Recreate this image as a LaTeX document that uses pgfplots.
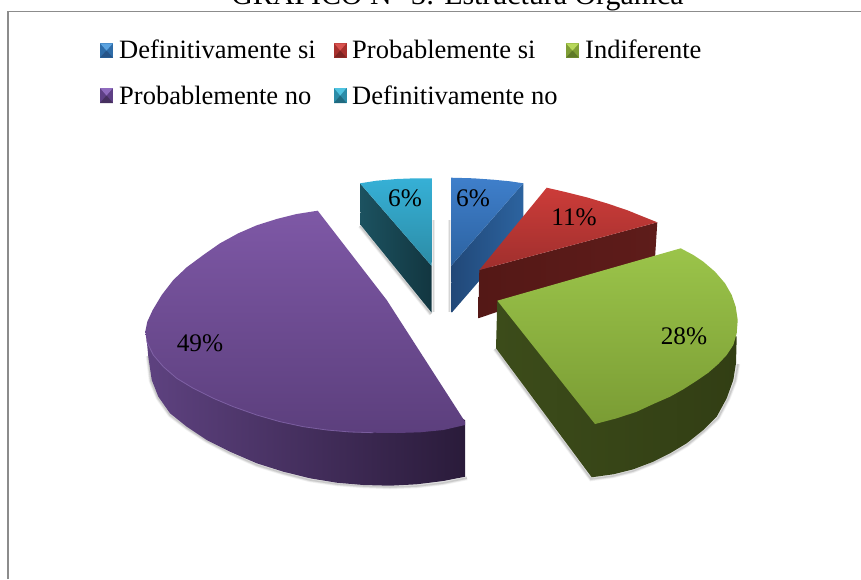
\documentclass[border=0pt]{standalone}
\usepackage{pgfplots}
\pgfplotsset{compat=1.18}
\usepackage{fontspec}
\setmainfont{Liberation Serif}
\definecolor{frameg}{HTML}{8C8C8C}
\definecolor{bB}{HTML}{2E6CA8}\definecolor{bL}{HTML}{5BA3E0}\definecolor{bD}{HTML}{265488}
\definecolor{rB}{HTML}{A8302D}\definecolor{rL}{HTML}{D9534F}\definecolor{rD}{HTML}{7E2422}
\definecolor{gB}{HTML}{7F9E35}\definecolor{gL}{HTML}{B7D85A}\definecolor{gD}{HTML}{5F7A28}
\definecolor{pB}{HTML}{5E4085}\definecolor{pL}{HTML}{8F6BBE}\definecolor{pD}{HTML}{46305F}
\definecolor{cB}{HTML}{2B8CA8}\definecolor{cL}{HTML}{4FC3E0}\definecolor{cD}{HTML}{1F6A80}
\newcommand\lgf{\fontsize{26.5}{30}\selectfont}
\newcommand\ttf{\fontsize{29.9}{34}\selectfont}
\newcommand\lbf{\fontsize{25.3}{30}\selectfont}
% bevelled legend key: x0 x1 xm y0 y1 ym base light dark
\newcommand\mk[9]{%
 \addplot[draw=none,fill=#7] coordinates {(#1,#4)(#2,#4)(#2,#5)(#1,#5)} --cycle;
 \addplot[draw=none,fill=#9] coordinates {(#1,#5)(#2,#5)(#3,#6)} --cycle;
 \addplot[draw=none,fill=#8] coordinates {(#1,#4)(#2,#4)(#3,#6)} --cycle;
}
\pgfplotsset{
  sh1/.style={black,opacity=.05,line width=4.5pt},
  sh2/.style={black,opacity=.07,line width=3pt},
  sh3/.style={black,opacity=.10,line width=1.5pt}}
\begin{document}
\begin{tikzpicture}
\useasboundingbox (0,0) rectangle (861pt,579pt);
\clip (0,0) rectangle (861pt,579pt);
\begin{axis}[at={(0,0)},anchor=south west,scale only axis,width=861pt,height=579pt,
  xmin=0,xmax=861,ymin=0,ymax=579,y dir=reverse,hide axis,no markers,clip=true]
% frame
\addplot[frameg,line width=1.4pt] coordinates {(8,579)(8,11.5)(861,11.5)};
% soft shadows
\addplot[sh1] coordinates {(148,356)(151,381)(158,398)(170,415)(187,428)(207,441)(230,453)(257,465)(283,473)(310,480)(337,484)(363,486)(390,487)(417,486)(443,483)(467,478)};
\addplot[sh2] coordinates {(148,356)(151,381)(158,398)(170,415)(187,428)(207,441)(230,453)(257,465)(283,473)(310,480)(337,484)(363,486)(390,487)(417,486)(443,483)(467,478)};
\addplot[sh3] coordinates {(148,356)(151,381)(158,398)(170,415)(187,428)(207,441)(230,453)(257,465)(283,473)(310,480)(337,484)(363,486)(390,487)(417,486)(443,483)(467,478)};
\addplot[sh1] coordinates {(360,226)(431,314)};
\addplot[sh2] coordinates {(360,226)(431,314)};
\addplot[sh3] coordinates {(360,226)(431,314)};
\addplot[sh2] coordinates {(433.5,220)(433.5,312)};
\addplot[sh3] coordinates {(433.5,220)(433.5,312)};
\addplot[sh2] coordinates {(449.5,220)(449.5,312)};
\addplot[sh3] coordinates {(449.5,220)(449.5,312)};
\addplot[sh1] coordinates {(495,349)(591,479)(613,476)(633,471)(653,463)(670,455)(687,445)(704,431)(718,418)(728,399)(735,381)(738,364)};
\addplot[sh2] coordinates {(495,349)(591,479)(613,476)(633,471)(653,463)(670,455)(687,445)(704,431)(718,418)(728,399)(735,381)(738,364)};
\addplot[sh3] coordinates {(495,349)(591,479)(613,476)(633,471)(653,463)(670,455)(687,445)(704,431)(718,418)(728,399)(735,381)(738,364)};
% purple
\addplot[draw=none,left color={rgb,255:red,94;green,66;blue,128},right color={rgb,255:red,42;green,27;blue,58}] coordinates {(146.7,340)(148.3,356.7)(151.7,380)(158.3,396.7)(170,413.3)(186.7,426.7)(206.7,440)(230,451.7)(256.7,463.3)(283.3,471.7)(310,478.3)(336.7,482.7)(363.3,485)(390,485.7)(416.7,484.3)(443.3,481)(465,476.7)(465,420)(380,380)(200,330)} --cycle;
\addplot[draw=none,top color={rgb,255:red,126;green,88;blue,166},bottom color={rgb,255:red,92;green,63;blue,125}] coordinates {(317.7,210.7)(296.7,214)(276.7,219)(256.7,225.3)(238.3,233.3)(220,243.3)(203.3,255)(186.7,267.3)(173.3,280)(161.7,295)(152.7,310)(147.3,321.7)(145.3,331.7)(146.7,341.7)(153.3,355)(163.3,366.7)(176.7,378.3)(193.3,388.3)(213.3,398.3)(233.3,406.7)(256.7,415)(280,421.7)(303.3,426.7)(326.7,430)(350,432)(373.3,432.7)(396.7,433)(420,432.3)(443.3,430)(465,425)(465,421.7)(386.7,300)} --cycle;
\addplot[color={rgb,255:red,140;green,110;blue,180},opacity=.7,line width=.8pt] coordinates {(146.7,341.7)(153.3,355)(163.3,366.7)(176.7,378.3)(193.3,388.3)(213.3,398.3)(233.3,406.7)(256.7,415)(280,421.7)(303.3,426.7)(326.7,430)(350,432)(373.3,432.7)};
% cyan
\addplot[draw=none,left color={rgb,255:red,28;green,82;blue,96},right color={rgb,255:red,18;green,54;blue,64}] coordinates {(360,183.3)(360.7,225)(431.7,312.7)(431.7,266)} --cycle;
\addplot[draw=none,top color={rgb,255:red,54;green,176;blue,214},bottom color={rgb,255:red,44;green,140;blue,166}] coordinates {(360,183.3)(376.7,180.7)(396.7,179)(415,178.3)(432.7,178.3)(431.7,266)} --cycle;
% blue
\addplot[draw=none,left color={rgb,255:red,33;green,72;blue,120},right color={rgb,255:red,44;green,99;blue,159}] coordinates {(451,266)(523.3,183.3)(523.3,230)(451.7,312.7)} --cycle;
\addplot[draw=none,top color={rgb,255:red,63;green,127;blue,203},bottom color={rgb,255:red,44;green,98;blue,160}] coordinates {(451,177.7)(473.3,178.3)(493.3,179.7)(510,181.3)(523.3,183.3)(451,266)} --cycle;
% red
\addplot[draw=none,left color={rgb,255:red,84;green,24;blue,22},right color={rgb,255:red,94;green,28;blue,26}] coordinates {(479.3,270)(657.3,222.3)(655,258)(478.3,318.3)} --cycle;
\addplot[draw=none,top color={rgb,255:red,204;green,60;blue,57},bottom color={rgb,255:red,159;green,47;blue,45}] coordinates {(546.7,187.7)(566.7,192.3)(586.7,197.3)(606.7,203.3)(626.7,210)(643.3,216.7)(657.3,222.3)(479.3,270)} --cycle;
% green
\addplot[draw=none,left color={rgb,255:red,60;green,76;blue,26},right color={rgb,255:red,50;green,62;blue,20}] coordinates {(497.3,300.7)(496,348.3)(591.7,477.3)(613.3,474.3)(633.3,469.3)(653.3,461.7)(670,453.3)(686.7,443.3)(703.3,430)(716.7,416.7)(726.7,398.3)(733.3,380)(736,363.3)(736.7,336.7)(680,300)} --cycle;
\addplot[draw=none,top color={rgb,255:red,155;green,196;blue,74},bottom color={rgb,255:red,122;green,156;blue,52}] coordinates {(497.3,300.7)(680.7,248.3)(693.3,255)(703.3,261.7)(715,271.7)(725,283.3)(731.7,295)(735.7,306.7)(737.7,320)(736.7,333.3)(733.3,345)(726.7,355)(718.3,364)(708.3,372.7)(696.7,380.7)(683.3,389.3)(670,396.7)(653.3,404)(636.7,411.7)(616.7,418.3)(595,424)} --cycle;
% legend keys
\mk{100}{113}{106.5}{43.3}{57.7}{50.5}{bB}{bL}{bD}
\mk{334}{346.5}{340.2}{43.3}{57.7}{50.5}{rB}{rL}{rD}
\mk{566}{579}{572.5}{43.3}{57.7}{50.5}{gB}{gL}{gD}
\mk{100}{113}{106.5}{88}{103}{95.5}{pB}{pL}{pD}
\mk{334}{346.5}{340.2}{88}{103}{95.5}{cB}{cL}{cD}
% title & legend text
\node[anchor=base,font=\ttf,inner sep=0pt] at (axis cs:457.5,4.5) {GRÁFICO N° 3: Estructura Orgánica};
\node[anchor=base west,font=\lgf,inner sep=0pt] at (axis cs:119,58) {Definitivamente si};
\node[anchor=base west,font=\lgf,inner sep=0pt] at (axis cs:352,58) {Probablemente si};
\node[anchor=base west,font=\lgf,inner sep=0pt] at (axis cs:585,58) {Indiferente};
\node[anchor=base west,font=\lgf,inner sep=0pt] at (axis cs:119,104) {Probablemente no};
\node[anchor=base west,font=\lgf,inner sep=0pt] at (axis cs:352,104) {Definitivamente no};
% data labels
\node[anchor=base,font=\lbf,inner sep=0pt] at (axis cs:405,206) {6\%};
\node[anchor=base,font=\lbf,inner sep=0pt] at (axis cs:473,206) {6\%};
\node[anchor=base,font=\lbf,inner sep=0pt] at (axis cs:574,225) {11\%};
\node[anchor=base,font=\lbf,inner sep=0pt] at (axis cs:684,344) {28\%};
\node[anchor=base,font=\lbf,inner sep=0pt] at (axis cs:200,351) {49\%};
\end{axis}
\end{tikzpicture}
\end{document}
